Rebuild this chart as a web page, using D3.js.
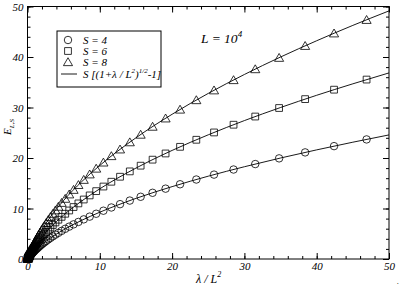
<!DOCTYPE html>
<head>
<meta charset="utf-8">
</head>
<style>
  body { margin: 0; background: #fff; }
  svg text { font-family: 'Liberation Serif', 'DejaVu Serif', serif; font-style: italic; fill: #000; }
  .axis .domain { display: none; }
</style>
<svg width="402" height="291"></svg>
<script src="https://d3js.org/d3.v7.min.js"></script>
<script>
// lambda / L^2 positions of the symbols
var lam = [0.01, 0.02, 0.035, 0.05, 0.07, 0.09, 0.11, 0.13, 0.14, 0.16, 0.17, 0.19, 0.21, 0.24, 0.26, 0.29, 0.32, 0.35,
  0.39, 0.43, 0.47, 0.52, 0.58, 0.64, 0.71, 0.78, 0.86, 0.95, 1.05, 1.17, 1.29, 1.42, 1.57, 1.74, 1.92, 2.12, 2.35, 2.59,
  2.87, 3.17, 3.5, 3.87, 4.27, 4.72, 5.22, 5.77, 6.37, 7.04, 7.78, 8.6, 9.5, 10.5, 11.6, 12.8, 14.15, 15.65, 17.3, 19.1,
  21.1, 23.35, 25.8, 28.5, 31.5, 34.8, 38.4, 42.4, 46.9];

var s4 = [0.02, 0.04, 0.07, 0.10, 0.14, 0.18, 0.22, 0.25, 0.27, 0.31, 0.33, 0.36, 0.40, 0.46, 0.49, 0.54, 0.60, 0.65,
  0.72, 0.78, 0.85, 0.93, 1.03, 1.12, 1.23, 1.34, 1.46, 1.58, 1.73, 1.89, 2.05, 2.22, 2.41, 2.62, 2.84, 3.06, 3.32, 3.58,
  3.87, 4.17, 4.48, 4.83, 5.18, 5.57, 5.98, 6.41, 6.86, 7.34, 7.85, 8.39, 8.96, 9.56, 10.20, 10.86, 11.57, 12.32, 13.11, 13.93,
  14.80, 15.74, 16.71, 17.72, 18.80, 19.93, 21.11, 22.35, 23.68];

var s6 = [0.03, 0.06, 0.10, 0.15, 0.20, 0.26, 0.32, 0.38, 0.41, 0.46, 0.49, 0.55, 0.60, 0.68, 0.73, 0.82, 0.89, 0.97,
  1.07, 1.18, 1.27, 1.40, 1.54, 1.69, 1.85, 2.00, 2.18, 2.38, 2.59, 2.84, 3.08, 3.34, 3.62, 3.93, 4.25, 4.60, 4.98, 5.37,
  5.80, 6.25, 6.73, 7.24, 7.78, 8.35, 8.96, 9.61, 10.29, 11.01, 11.78, 12.59, 13.44, 14.35, 15.30, 16.29, 17.35, 18.48, 19.67, 20.90,
  22.21, 23.61, 25.06, 26.59, 28.21, 29.90, 31.66, 33.53, 35.53];

var s8 = [0.04, 0.08, 0.14, 0.20, 0.27, 0.35, 0.43, 0.50, 0.54, 0.62, 0.66, 0.73, 0.80, 0.91, 0.98, 1.09, 1.19, 1.30,
  1.43, 1.57, 1.70, 1.86, 2.06, 2.25, 2.46, 2.67, 2.91, 3.17, 3.46, 3.78, 4.10, 4.45, 4.82, 5.24, 5.67, 6.13, 6.64, 7.16,
  7.74, 8.34, 8.97, 9.66, 10.37, 11.14, 11.95, 12.82, 13.72, 14.68, 15.70, 16.78, 17.92, 19.13, 20.40, 21.72, 23.14, 24.64, 26.22, 27.86,
  29.61, 31.48, 33.42, 35.45, 37.61, 39.86, 42.22, 44.70, 47.37];

// fitted curve S[(1+lambda/L^2)^1/2 - 1]
var fitX  = [0, 0.01, 0.025, 0.05, 0.1, 0.25, 0.5, 1, 2, 3, 5, 7.5, 10, 15, 20, 25, 30, 35, 40, 45, 50];
var fit4  = [0, 0.02, 0.05, 0.10, 0.195, 0.472, 0.899, 1.657, 2.928, 4.0, 5.798, 7.662, 9.266, 12.0, 14.33, 16.40, 18.27, 20.0, 21.61, 23.13, 24.57];
var fit6  = [0, 0.03, 0.074, 0.148, 0.293, 0.708, 1.348, 2.485, 4.393, 6.0, 8.697, 11.49, 13.90, 18.0, 21.50, 24.59, 27.41, 30.0, 32.42, 34.69, 36.85];
var fit8  = [0, 0.04, 0.099, 0.198, 0.390, 0.944, 1.798, 3.314, 5.857, 8.0, 11.60, 15.32, 18.53, 24.0, 28.66, 32.79, 36.54, 40.0, 43.22, 46.26, 49.13];

var xTicks = [0, 10, 20, 30, 40, 50];
var yTicks = [0, 10, 20, 30, 40, 50];

var svg = d3.select("svg");
var x = d3.scaleLinear().domain([0, 50]).range([27.5, 389]);
var y = d3.scaleLinear().domain([0, 50]).range([259, 6.5]);

var minor = d3.range(0, 51, 2);

// ticks on all four sides, pointing inwards
function ticks(axisFn, tr, len, vals, labels, pad) {
  var a = axisFn.tickValues(vals).tickSize(-len).tickPadding(pad || 3);
  if (!labels) a.tickFormat("");
  var g = svg.append("g").attr("class", "axis").attr("transform", tr).call(a);
  g.selectAll("line").attr("stroke", "#000").attr("stroke-width", 1);
  g.selectAll("text").attr("font-size", 11).attr("fill", "#000");
  return g;
}
ticks(d3.axisBottom(x), "translate(0,259)", 3, minor, false);
var gx = ticks(d3.axisBottom(x), "translate(0,259)", 6, xTicks, true, 3);
ticks(d3.axisTop(x), "translate(0,6.5)", 3, minor, false);
ticks(d3.axisTop(x), "translate(0,6.5)", 6, xTicks, false);
ticks(d3.axisLeft(y), "translate(27.5,0)", 3, minor, false);
var gy = ticks(d3.axisLeft(y), "translate(27.5,0)", 6, yTicks, true, 4);
ticks(d3.axisRight(y), "translate(389,0)", 3, minor, false);
ticks(d3.axisRight(y), "translate(389,0)", 6, yTicks, false);
gx.selectAll("text").attr("font-family", "Liberation Serif").attr("font-style", "italic");
gy.selectAll("text").attr("font-family", "Liberation Serif").attr("font-style", "italic");

svg.append("rect")
  .attr("x", x(0)).attr("y", y(50))
  .attr("width", x(50) - x(0)).attr("height", y(0) - y(50))
  .attr("fill", "none").attr("stroke", "#000").attr("stroke-width", 1);

// fitted lines
var line = d3.line()
  .x(function(d) { return x(d[0]); })
  .y(function(d) { return y(d[1]); })
  .curve(d3.curveMonotoneX);

[fit4, fit6, fit8].forEach(function(f) {
  svg.append("path")
    .datum(fitX.map(function(v, i) { return [v, f[i]]; }))
    .attr("d", line)
    .attr("fill", "none").attr("stroke", "#000").attr("stroke-width", 0.9);
});

// symbols
var series = [
  {vals: s4, sym: d3.symbolCircle, size: 44},
  {vals: s6, sym: d3.symbolSquare, size: 46},
  {vals: s8, sym: d3.symbolTriangle, size: 36}
];
series.forEach(function(s) {
  svg.append("g").selectAll("path")
    .data(lam.map(function(v, i) { return [v, s.vals[i]]; }))
    .enter().append("path")
      .attr("transform", function(d) {
        var dy = s.sym === d3.symbolTriangle ? 1 : 0;
        return "translate(" + x(d[0]) + "," + (y(d[1]) + dy) + ")";
      })
      .attr("d", d3.symbol().type(s.sym).size(s.size))
      .attr("fill", "none").attr("stroke", "#000").attr("stroke-width", 0.8);
});

// legend
var lg = svg.append("g");
lg.append("rect").attr("x", 57).attr("y", 31).attr("width", 104).attr("height", 56)
  .attr("fill", "#fff").attr("stroke", "#000").attr("stroke-width", 1);
var legendRows = [
  {sym: d3.symbolCircle, size: 44, label: "S = 4"},
  {sym: d3.symbolSquare, size: 46, label: "S = 6"},
  {sym: d3.symbolTriangle, size: 36, label: "S = 8"}
];
legendRows.forEach(function(r, i) {
  var cy = 40 + i * 11;
  lg.append("path").attr("transform", "translate(68," + (cy + (r.sym === d3.symbolTriangle ? 1 : 0)) + ")")
    .attr("d", d3.symbol().type(r.sym).size(r.size))
    .attr("fill", "none").attr("stroke", "#000").attr("stroke-width", 0.8);
  lg.append("text").attr("x", 83).attr("y", cy + 4).attr("font-size", 11).text(r.label);
});
lg.append("line").attr("x1", 61).attr("x2", 77).attr("y1", 74).attr("y2", 74)
  .attr("stroke", "#000").attr("stroke-width", 0.9);
var ft = lg.append("text").attr("x", 83).attr("y", 78).attr("font-size", 11);
ft.append("tspan").text("S [(1+\u03bb / L");
ft.append("tspan").attr("dy", -5).attr("font-size", 7).text("2");
ft.append("tspan").attr("dy", 5).text(")");
ft.append("tspan").attr("dy", -5).attr("font-size", 7).text("1/2");
ft.append("tspan").attr("dy", 5).text("-1]");

// L = 10^4
var lt = svg.append("text").attr("x", 201).attr("y", 43).attr("font-size", 13.5);
lt.append("tspan").text("L = 10");
lt.append("tspan").attr("dy", -6).attr("font-size", 9).text("4");

// axis titles
var xt = svg.append("text").attr("x", 196).attr("y", 283).attr("font-size", 12);
xt.append("tspan").text("\u03bb / L");
xt.append("tspan").attr("dy", -6).attr("font-size", 8).text("2");

var yt = svg.append("text").attr("transform", "translate(11,135) rotate(-90)").attr("font-size", 11);
yt.append("tspan").text("E");
yt.append("tspan").attr("dy", 3).attr("font-size", 7).text("L,S");

svg.append("text").attr("x", 397).attr("y", 284).attr("font-size", 8).text(".");
</script>
